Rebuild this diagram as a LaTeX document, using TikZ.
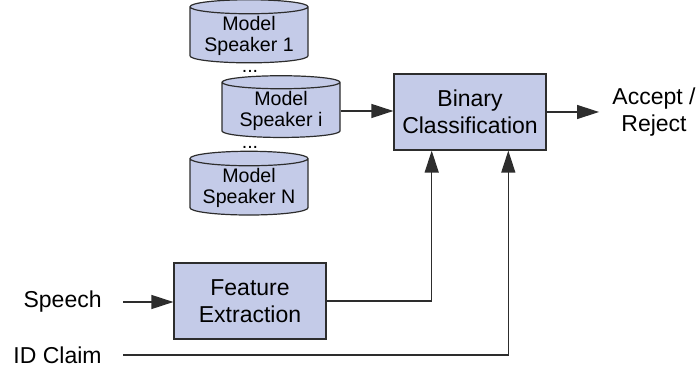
\documentclass[tikz,border=0pt]{standalone}
\usepackage{fontspec}
\setmainfont{Liberation Sans}
\usetikzlibrary{shapes.geometric,arrows.meta,positioning,calc}
\definecolor{boxfill}{RGB}{196,203,232}
\definecolor{linegray}{RGB}{45,45,45}

\begin{document}
\begin{tikzpicture}[
    x=0.5pt, y=-0.5pt,
    font=\fontsize{11.5}{13.5}\selectfont,
    >={Triangle[length=11pt,width=7pt]},
    % --- node styles ---
    block/.style = {rectangle, draw=linegray, fill=boxfill, line width=0.6pt,
                    align=center, minimum width=76pt, minimum height=38pt,
                    inner sep=2pt},
    model/.style = {cylinder, shape border rotate=90, aspect=0.15,
                    draw=linegray, fill=boxfill, line width=0.6pt,
                    align=center, minimum width=59pt, minimum height=29pt,
                    inner sep=1pt, font=\fontsize{9.8}{10.5}\selectfont},
    dots/.style = {inner sep=0pt, font=\fontsize{9.8}{10.5}\selectfont},
    lbl/.style = {align=center, inner xsep=6.5pt},
    src/.style = {anchor=east, inner xsep=10.5pt},
    arrow/.style = {->, line width=0.6pt, draw=linegray},
    wire/.style = {line width=0.6pt, draw=linegray},
]
\useasboundingbox (0,0) rectangle (699,367);

%============ SPEAKER MODELS ============
\node (m1) [model] at (249,36) {Model\\Speaker 1};
\node (mi) [model] at (281,111) {Model\\Speaker i};
\node (mn) [model] at (249,188) {Model\\Speaker N};

\node (d1) [dots] at (250,71) {...};
\node (d2) [dots] at (250,147) {...};

%============ CLASSIFIER ============
\node (bc) [block] at (470,112) {Binary\\Classification};
\node (res) [lbl] at (654,112) {Accept /\\Reject};

\draw[arrow] (mi.east) -- (mi.east -| bc.west);
\draw[arrow] (bc) -- (res);

%============ FRONT END ============
\node (fe) [block] at (250,301) {Feature\\Extraction};
\node (speech) [src] at (123,302) {Speech};
\node (claim) [src] at (123,355) {ID Claim};

\draw[arrow] (speech) -- (speech -| fe.west);

% both inputs feed the classifier from below
\coordinate (in1) at ($(bc.south)!0.5!(bc.south west)$);
\coordinate (in2) at ($(bc.south)!0.5!(bc.south east)$);
\draw[arrow] (fe.east) -| (in1);
\draw[arrow] (claim.east) -| (in2);

\end{tikzpicture}
\end{document}
